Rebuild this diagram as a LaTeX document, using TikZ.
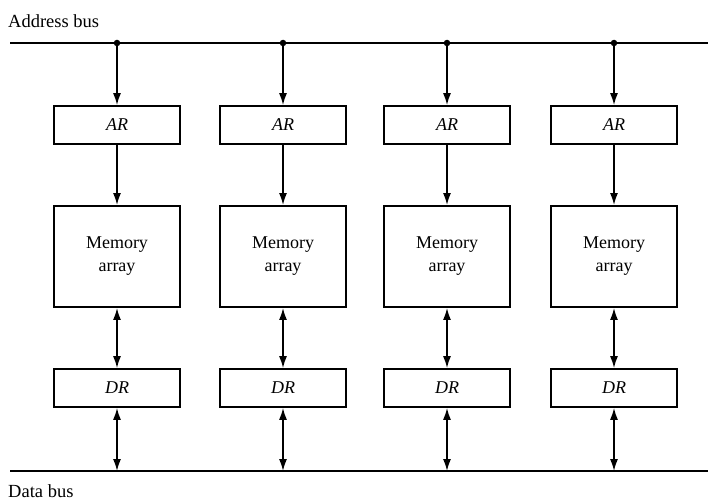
\documentclass[tikz,border=0pt]{standalone}
\usepackage{fontspec}
\setmainfont{Liberation Serif}
\usetikzlibrary{arrows.meta}
\begin{document}
\begin{tikzpicture}[x=1pt,y=-1pt,
  bus/.style={line width=2pt},
  regbox/.style={draw,line width=1.7pt,minimum width=126pt,minimum height=38pt,inner sep=0pt,font=\fontsize{18}{20}\selectfont\itshape},
  membox/.style={draw,line width=1.9pt,minimum width=126pt,minimum height=101pt,inner sep=0pt,align=center,font=\fontsize{18}{23}\selectfont},
  arr/.style={line width=1.6pt,-{Latex[length=12pt,width=8pt]}},
  darr/.style={line width=1.6pt,{Latex[length=12pt,width=8pt]}-{Latex[length=12pt,width=8pt]}},
  lbl/.style={font=\fontsize{18.5}{20}\selectfont,inner sep=0pt,anchor=west},
  dot/.style={circle,fill,inner sep=0pt,minimum size=6.5pt}]
\useasboundingbox (0,0) rectangle (708,500);
\coordinate (abL) at (10,43);
\coordinate (abR) at (708,43);
\coordinate (dbL) at (10,471);
\coordinate (dbR) at (708,471);
\draw[bus] (abL) -- (abR);
\draw[bus] (dbL) -- (dbR);
\node[lbl] (alabel) at (8,21) {Address bus};
\node[lbl] (dlabel) at (8,491) {Data bus};
\foreach \i/\x in {1/117,2/283,3/447,4/614} {
  \node[dot] (j\i) at (\x,43) {};
  \coordinate (d\i) at (\x,471);
  \node[regbox] (ar\i) at (\x,125) {AR};
  \node[membox] (m\i) at (\x,256.5) {Memory\\array};
  \node[regbox] (dr\i) at (\x,388) {DR};
  \draw[arr] (j\i.center) -- (ar\i.north);
  \draw[arr] (ar\i.south) -- (m\i.north);
  \draw[darr] (m\i.south) -- (dr\i.north);
  \draw[darr] (dr\i.south) -- (d\i);
}
\end{tikzpicture}
\end{document}
